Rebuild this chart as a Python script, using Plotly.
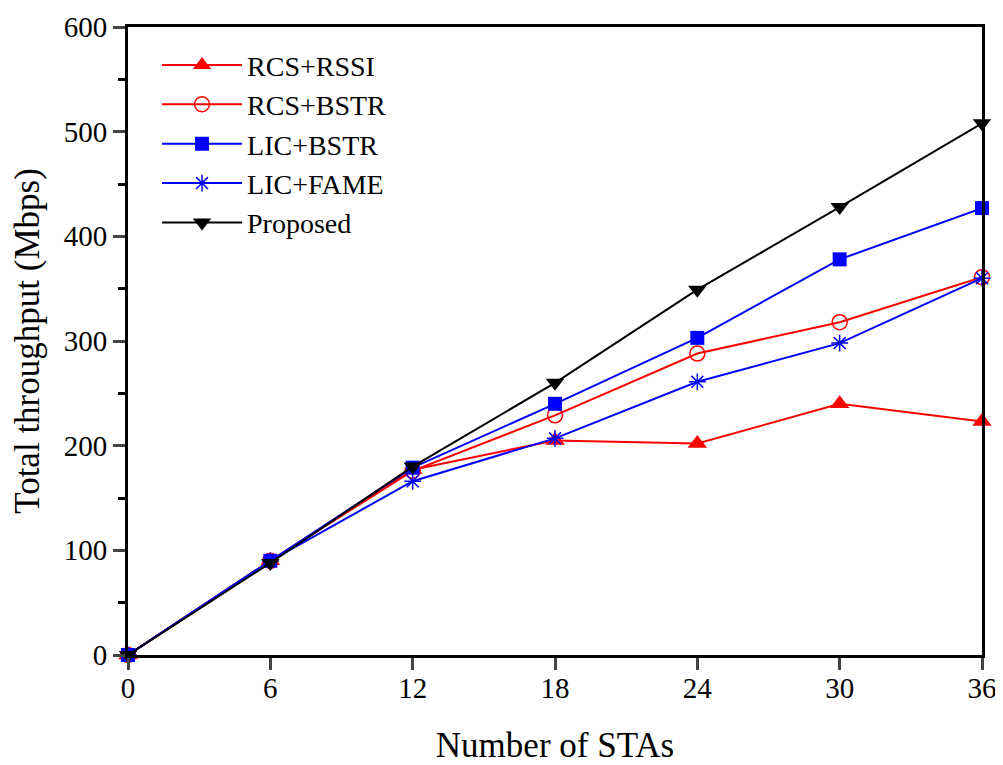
import plotly.graph_objects as go

stas = [0, 6, 12, 18, 24, 30, 36]
rcs_rssi = [0, 90, 177, 205, 202, 240, 223]
rcs_bstr = [0, 90, 176, 229, 288, 318, 361]
lic_bstr = [0, 90, 179, 240, 303, 378, 427]
lic_fame = [0, 90, 166, 207, 261, 298, 360]
proposed = [0, 88, 180, 260, 349, 428, 508]

y_major = [0, 100, 200, 300, 400, 500, 600]
y_minor = [50, 150, 250, 350, 450, 550]

series = [
    ("RCS+RSSI", rcs_rssi, "#ff0000", "triangle-up", 17),
    ("RCS+BSTR", rcs_bstr, "#ff0000", "circle-open", 15),
    ("LIC+BSTR", lic_bstr, "#0000ff", "square", 14),
    ("LIC+FAME", lic_fame, "#0000ff", "asterisk-open", 14),
    ("Proposed", proposed, "#000000", "triangle-down", 16),
]

fig = go.Figure()
for name, ys, color, sym, size in series:
    marker = dict(symbol=sym, size=size, color=color)
    if sym.endswith("open"):
        marker["line"] = dict(color=color, width=1.5)
    else:
        marker["line"] = dict(width=0)
    fig.add_trace(go.Scatter(
        x=stas, y=ys, name=name, mode="lines+markers",
        line=dict(color=color, width=2),
        marker=marker, cliponaxis=False,
    ))

font = "Liberation Serif, Times New Roman, serif"
fig.update_layout(
    width=992, height=757,
    margin=dict(l=120, r=18, t=19, b=110, autoexpand=False),
    paper_bgcolor="white", plot_bgcolor="white",
    font=dict(family=font, size=29, color="black"),
    showlegend=True,
    legend=dict(x=0.034, y=0.979, xanchor="left", yanchor="top",
                bgcolor="rgba(0,0,0,0)", font=dict(size=28),
                tracegroupgap=0, itemwidth=80),
    xaxis=dict(
        range=[0, 36], tickvals=stas, ticks="outside", ticklen=12, tickwidth=2.5,
        showline=True, linewidth=2.7, linecolor="black", mirror=True,
        showgrid=False, zeroline=False, automargin=False,
        ticklabeloverflow="allow", ticklabelstandoff=-7,
        title=dict(text="Number of STAs", font=dict(size=35), standoff=38),
        tickfont=dict(size=29),
    ),
    yaxis=dict(
        range=[0, 600], tickvals=y_major,
        ticks="outside", ticklen=12, tickwidth=2.5,
        minor=dict(tickvals=y_minor, ticks="outside",
                   ticklen=7, tickwidth=2.5, tickcolor="black"),
        showline=True, linewidth=2.7, linecolor="black", mirror=True,
        showgrid=False, zeroline=False, automargin=False,
        title=dict(text="Total throughput (Mbps)", font=dict(size=35), standoff=19),
        tickfont=dict(size=29),
    ),
)

fig.write_html("out.html")
